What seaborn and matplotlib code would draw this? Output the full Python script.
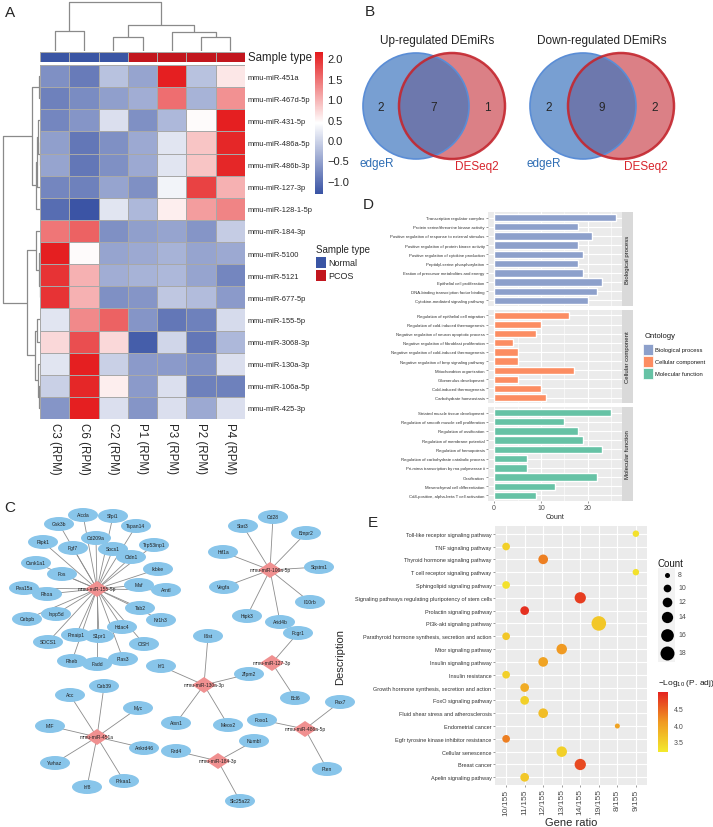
import numpy as np
import pandas as pd
import matplotlib
matplotlib.use("Agg")
import matplotlib.pyplot as plt
import seaborn as sns
from matplotlib.colors import LinearSegmentedColormap, ListedColormap, Normalize
from matplotlib.patches import Ellipse, Polygon, Circle, Rectangle
from matplotlib.cm import ScalarMappable

sns.set_style("white")
plt.rcParams["font.family"] = ["Liberation Sans", "DejaVu Sans"]
plt.rcParams["mathtext.fontset"] = "custom"
plt.rcParams["mathtext.rm"] = "Liberation Sans"
plt.rcParams["mathtext.it"] = "Liberation Sans:italic"

# ---------------- data: panel A ----------------
mirnas = ["mmu-miR-451a", "mmu-miR-467d-5p", "mmu-miR-431-5p", "mmu-miR-486a-5p",
          "mmu-miR-486b-3p", "mmu-miR-127-3p", "mmu-miR-128-1-5p", "mmu-miR-184-3p",
          "mmu-miR-5100", "mmu-miR-5121", "mmu-miR-677-5p", "mmu-miR-155-5p",
          "mmu-miR-3068-3p", "mmu-miR-130a-3p", "mmu-miR-106a-5p", "mmu-miR-425-3p"]
samples = ["C3 (RPM)", "C6 (RPM)", "C2 (RPM)", "P1 (RPM)", "P3 (RPM)", "P2 (RPM)", "P4 (RPM)"]
sample_type = ["Normal", "Normal", "Normal", "PCOS", "PCOS", "PCOS", "PCOS"]
type_levels = ["Normal", "PCOS"]
zscores = [
    [-0.70, -0.90, -0.20, -0.50, 2.10, -0.20, 0.60],
    [-0.85, -0.75, -0.55, -0.40, 1.50, -0.35, 1.25],
    [-0.80, -0.65, 0.10, -0.70, -0.30, 0.45, 2.10],
    [-0.55, -0.95, -0.70, -0.45, 0.15, 0.85, 2.05],
    [-0.50, -0.95, -0.70, -0.45, 0.15, 0.85, 2.05],
    [-0.80, -0.85, -0.50, -0.70, 0.30, 1.85, 1.00],
    [-1.05, -1.30, 0.15, -0.30, 0.55, 1.15, 1.35],
    [1.45, 1.60, -0.70, -0.55, -0.50, -0.65, -0.10],
    [2.10, 0.45, -0.50, -0.45, -0.35, -0.50, -0.45],
    [1.95, 1.00, -0.40, -0.35, -0.30, -0.50, -0.80],
    [1.95, 1.00, -0.70, -0.65, -0.15, -0.25, -0.60],
    [0.15, 1.30, 1.60, -0.65, -0.95, -0.85, 0.05],
    [0.70, 1.75, 0.70, -1.20, 0.00, -0.95, -0.30],
    [0.15, 2.10, -0.05, -0.60, -0.60, -0.70, 0.10],
    [-0.05, 2.05, 0.55, -0.60, 0.10, -0.85, -0.85],
    [-0.65, 2.10, 0.10, -0.65, 0.10, -0.45, 0.10],
]
# dendrogram merges: (child a, child b, height)
col_merges = [(0, 1, 20), (2, 3, 14), (5, 6, 14), (4, 9, 19), (8, 10, 26), (7, 11, 49)]
row_merges = [(0, 1, 1.5), (3, 4, 0.5), (2, 17, 2.5), (5, 18, 3), (6, 19, 4), (16, 20, 8),
              (9, 10, 0.5), (8, 22, 1.5), (7, 23, 4.5), (11, 12, 3.5), (14, 15, 1),
              (13, 26, 2), (25, 27, 5), (24, 28, 13), (21, 29, 37)]

# ---------------- data: panel B ----------------
venn_titles = ["Up-regulated DEmiRs", "Down-regulated DEmiRs"]
venn_counts = [(2, 7, 1), (2, 9, 2)]
venn_sets = ["edgeR", "DESeq2"]

# ---------------- data: panel C ----------------
net_hubs = ["mmu-miR-155-5p", "mmu-miR-106a-5p", "mmu-miR-127-3p", "mmu-miR-130a-3p",
            "mmu-miR-451a", "mmu-miR-184-3p", "mmu-miR-486a-5p"]
net_hub_x = [97, 270, 272, 204, 97, 218, 305]
net_hub_y = [590, 571, 664, 686, 738, 762, 730]
net_genes = ["Aicda", "Sfpi1", "Gsk3b", "Tspan14", "Cd209a", "Ripk1", "Fgf7", "Socs1", "Trp53inp1",
             "Cldn1", "Csnk1a1", "Ikbke", "Fos", "Maf", "Arntl", "Pea15a", "Rhoa", "Tab2",
             "Inpp5d", "Nr1h3", "Cebpb", "Hdac4", "Pmaip1", "S1pr1", "SOCS1", "CISH", "Rheb",
             "Fadd", "Pias3",
             "Stat3", "Cd28", "Bmpr2", "Hif1a", "Sqstm1", "Vegfa", "Il10rb", "Hipk3", "Arid4b",
             "Fcgr1", "Bcl6",
             "Il6st", "Irf1", "Zfpm2", "Atxn1", "Meox2",
             "Acc", "Cab39", "Myc", "MIF", "Ankrd46", "Ywhaz", "Prkaa1", "Irf8",
             "Numbl", "Fzd4", "Slc25a22",
             "Pax7", "Foxo1", "Pten"]
net_gene_x = [83, 113, 59, 136, 96, 43, 73, 113, 154, 131, 36, 158, 62, 139, 166, 24, 47, 140,
              56, 161, 27, 122, 76, 99, 48, 144, 72, 97, 123,
              243, 273, 306, 223, 319, 224, 310, 247, 280,
              298, 295,
              208, 161, 249, 176, 228,
              70, 104, 138, 50, 144, 55, 124, 87,
              254, 176, 240,
              340, 262, 327]
net_gene_y = [516, 517, 525, 527, 539, 543, 549, 550, 546, 558, 564, 570, 575, 586, 591, 589, 595,
              609, 615, 621, 620, 628, 636, 637, 643, 645, 662, 665, 660,
              527, 518, 534, 553, 568, 588, 603, 617, 623,
              634, 699,
              637, 667, 675, 724, 726,
              696, 687, 709, 727, 749, 764, 782, 788,
              742, 752, 802,
              703, 721, 770]
net_gene_hub = [0] * 29 + [1] * 9 + [2] * 2 + [3] * 5 + [4] * 8 + [5] * 3 + [6] * 3

# ---------------- data: panel D ----------------
go_bp = ["Transcription regulator complex", "Protein serine/threonine kinase activity",
         "Positive regulation of response to external stimulus",
         "Positive regulation of protein kinase activity",
         "Positive regulation of cytokine production", "Peptidyl-serine phosphorylation",
         "Eration of precursor metabolites and energy", "Epithelial cell proliferation",
         "DNA-binding transcription factor binding", "Cytokine-mediated signaling pathway"]
go_bp_count = [26, 18, 21, 18, 19, 18, 19, 23, 22, 20]
go_cc = ["Regulation of epithelial cell migration", "Regulation of cold-induced thermogenesis",
         "Negative regulation of neuron apoptotic process",
         "Negative regulation of fibroblast proliferation",
         "Negative regulation of cold-induced thermogenesis",
         "Negative regulation of bmp signaling pathway", "Mitochondrion organization",
         "Glomerulus development", "Cold-induced thermogenesis", "Carbohydrate homeostasis"]
go_cc_count = [16, 10, 9, 4, 5, 5, 17, 5, 10, 11]
go_mf = ["Striated muscle tissue development", "Regulation of smooth muscle cell proliferation",
         "Regulation of ossification", "Regulation of membrane potential",
         "Regulation of hemopoiesis", "Regulation of carbohydrate catabolic process",
         "Pri-mirna transcription by rna polymerase ii", "Ossification",
         "Mesenchymal cell differentiation", "Cd4-positive, alpha-beta T cell activation"]
go_mf_count = [25, 15, 18, 19, 23, 7, 7, 22, 13, 9]
ontologies = ["Biological process", "Cellular component", "Molecular function"]

# ---------------- data: panel E ----------------
kegg_terms = ["Toll-like receptor signaling pathway", "TNF signaling pathway",
              "Thyroid hormone signaling pathway", "T cell receptor signaling pathway",
              "Sphingolipid signaling pathway",
              "Signaling pathways regulating pluripotency of stem cells",
              "Prolactin signaling pathway", "PI3k-akt signaling pathway",
              "Parathyroid hormone synthesis, secretion and action", "Mtor signaling pathway",
              "Insulin signaling pathway", "Insulin resistance",
              "Growth hormone synthesis, secretion and action", "FoxO signaling pathway",
              "Fluid shear stress and atherosclerosis", "Endometrial cancer",
              "Egfr tyrosine kinase inhibitor resistance", "Cellular senescence",
              "Breast cancer", "Apelin signaling pathway"]
kegg_ratio = ["9/155", "10/155", "12/155", "9/155", "10/155", "14/155", "11/155", "19/155",
              "10/155", "13/155", "12/155", "10/155", "11/155", "11/155", "12/155", "8/155",
              "10/155", "13/155", "14/155", "11/155"]
kegg_count = [9, 10, 12, 9, 10, 14, 11, 19, 10, 13, 12, 10, 11, 11, 12, 8, 10, 13, 14, 11]
kegg_logp = [3.3, 3.5, 4.3, 3.3, 3.3, 4.8, 4.9, 3.6, 3.6, 4.1, 4.0, 3.5, 3.9, 3.5, 3.7, 4.0,
             4.3, 3.5, 4.7, 3.6]
ratio_levels = ["10/155", "11/155", "12/155", "13/155", "14/155", "19/155", "8/155", "9/155"]
count_legend = [8, 10, 12, 14, 16, 18]

# ================= figure =================
W, H = 713, 828
fig = plt.figure(figsize=(W / 100, H / 100), dpi=100)


def box(x0, y0, x1, y1):
    return [x0 / W, 1 - y1 / H, (x1 - x0) / W, (y1 - y0) / H]


# ---------- Panel A: heatmap ----------
hm_cmap = LinearSegmentedColormap.from_list("ph", ["#3953A4", "#FFFFFF", "#E41A1C"])
ax_hm = fig.add_axes(box(40, 66, 245, 420))
cax = fig.add_axes(box(315, 53, 323, 195))
df_z = pd.DataFrame(zscores, index=mirnas, columns=samples)
sns.heatmap(df_z, ax=ax_hm, cmap=hm_cmap, vmin=-1.32, vmax=2.15, cbar_ax=cax,
            linewidths=0.6, linecolor="#A8A8A8")
ax_hm.yaxis.tick_right()
ax_hm.set_yticks(np.arange(len(mirnas)) + 0.5)
ax_hm.set_yticklabels(mirnas, rotation=0, fontsize=5.4)
ax_hm.set_xticks(np.arange(len(samples)) + 0.5)
ax_hm.set_xticklabels(samples, rotation=270, fontsize=8.3, va="top", ha="center")
ax_hm.tick_params(length=0, pad=2)
ax_hm.set_xlabel("")
ax_hm.set_ylabel("")
cb = ax_hm.collections[0].colorbar
cb.outline.set_visible(False)
cb.set_ticks([-1.0, -0.5, 0.0, 0.5, 1.0, 1.5, 2.0])
cb.set_ticklabels(["\u22121.0", "\u22120.5", "0.0", "0.5", "1.0", "1.5", "2.0"])
cax.tick_params(length=0, labelsize=8, pad=3)

ax_an = fig.add_axes(box(40, 53, 245, 63))
codes = [[type_levels.index(t) for t in sample_type]]
sns.heatmap(codes, ax=ax_an, cmap=ListedColormap(["#3A55A4", "#C2161E"]), vmin=-0.5, vmax=1.5,
            cbar=False, linewidths=0.6, linecolor="#A8A8A8", xticklabels=False, yticklabels=False)
ax_an.text(7.1, 0.5, "Sample type", fontsize=8.3, va="center", ha="left", clip_on=False)


def draw_dendro(ax, n, merges, vertical):
    pos = {i: i + 0.5 for i in range(n)}
    hgt = {i: 0.0 for i in range(n)}
    for k, (a, b, h) in enumerate(merges):
        xa, xb = pos[a], pos[b]
        p = [xa, xa, xb, xb]
        q = [hgt[a], h, h, hgt[b]]
        if vertical:
            ax.plot(p, q, color="#8A8A8A", lw=0.9, solid_capstyle="butt")
        else:
            ax.plot(q, p, color="#8A8A8A", lw=0.9, solid_capstyle="butt")
        pos[n + k] = (xa + xb) / 2
        hgt[n + k] = h


ax_cd = fig.add_axes(box(40, 2, 245, 52))
draw_dendro(ax_cd, len(samples), col_merges, True)
ax_cd.set_xlim(0, len(samples))
ax_cd.set_ylim(0, 50)
ax_cd.axis("off")

ax_rd = fig.add_axes(box(0, 66, 40, 420))
draw_dendro(ax_rd, len(mirnas), row_merges, False)
ax_rd.set_xlim(40, 0)
ax_rd.set_ylim(len(mirnas), 0)
ax_rd.axis("off")

# ---------- Panel D: GO bars ----------
go_colors = ["#8DA0CB", "#FC8D62", "#66C2A5"]
go_df = pd.DataFrame({
    "Description": go_bp + go_cc + go_mf,
    "Count": go_bp_count + go_cc_count + go_mf_count,
    "Ontology": [ontologies[0]] * len(go_bp) + [ontologies[1]] * len(go_cc) + [ontologies[2]] * len(go_mf),
})
facet_y = [(213, 307), (311, 404), (408, 502)]
for i, ont in enumerate(ontologies):
    y0, y1 = facet_y[i]
    ax = fig.add_axes(box(488, y0, 622, y1))
    sub = go_df[go_df["Ontology"] == ont]
    ax.set_facecolor("#EBEBEB")
    ax.set_axisbelow(True)
    sns.barplot(data=sub, x="Count", y="Description", orient="h", color=go_colors[i],
                saturation=1, width=0.8, ax=ax)
    ax.set_xlim(-1.3, 27.3)
    ax.set_ylim(len(sub) - 0.4, -0.6)
    ax.set_xticks([0, 10, 20])
    ax.set_xticks([5, 15, 25], minor=True)
    ax.grid(which="major", color="white", lw=0.8)
    ax.grid(which="minor", axis="x", color="white", lw=0.4)
    for s in ax.spines.values():
        s.set_visible(False)
    ax.tick_params(axis="y", labelsize=3.1, length=1.5, width=0.4, color="#4D4D4D",
                   labelcolor="#333333", pad=1, left=True)
    ax.tick_params(which="minor", length=0)
    ax.set_ylabel("")
    if i < 2:
        ax.tick_params(axis="x", labelbottom=False, length=0)
        ax.set_xlabel("")
    else:
        ax.tick_params(axis="x", labelsize=5, length=1.5, width=0.4, color="#4D4D4D",
                       labelcolor="#4D4D4D", pad=1, bottom=True)
        ax.set_xlabel("Count", fontsize=5, labelpad=1)
    sax = fig.add_axes(box(622, y0, 633, y1))
    sax.set_facecolor("#D9D9D9")
    sax.set_xticks([])
    sax.set_yticks([])
    for s in sax.spines.values():
        s.set_visible(False)
    sax.text(0.5, 0.5, ont, rotation=90, ha="center", va="center", fontsize=4.3,
             color="#1A1A1A", transform=sax.transAxes)

# ---------- Panel E: KEGG dot plot ----------
e_cmap = LinearSegmentedColormap.from_list("yr", ["#F3EA2D", "#F09A22", "#E42320"])
e_norm = Normalize(3.2, 5.0)
size_range = (13, 110)
size_norm = (8, 19)
kdf = pd.DataFrame({"term": kegg_terms, "ratio": kegg_ratio, "Count": kegg_count,
                    "logp": kegg_logp})
kdf["xi"] = pd.Categorical(kdf["ratio"], categories=ratio_levels).codes
kdf["yi"] = np.arange(len(kdf))
ax_e = fig.add_axes(box(495, 527, 647, 786))
ax_e.set_facecolor("#EBEBEB")
ax_e.set_axisbelow(True)
sns.scatterplot(data=kdf, x="xi", y="yi", size="Count", sizes=size_range, size_norm=size_norm,
                hue="logp", palette=e_cmap, hue_norm=e_norm, legend=False, linewidth=0,
                ax=ax_e, zorder=3)
ax_e.set_xlim(-0.6, len(ratio_levels) - 0.4)
ax_e.set_ylim(len(kegg_terms) - 0.4, -0.6)
ax_e.set_xticks(range(len(ratio_levels)))
ax_e.set_xticklabels(ratio_levels, rotation=90, fontsize=6, color="#4D4D4D")
ax_e.set_yticks(range(len(kegg_terms)))
ax_e.set_yticklabels(kegg_terms, fontsize=4, color="#333333")
ax_e.grid(color="white", lw=0.8)
for s in ax_e.spines.values():
    s.set_visible(False)
ax_e.tick_params(length=1.5, width=0.4, color="#4D4D4D", pad=1, left=True, bottom=True)
ax_e.set_xlabel("Gene ratio", fontsize=8, labelpad=2)
ax_e.set_ylabel("")

cax2 = fig.add_axes(box(658, 693, 668, 753))
cb2 = fig.colorbar(ScalarMappable(norm=e_norm, cmap=e_cmap), cax=cax2)
cb2.outline.set_visible(False)
cb2.set_ticks([3.5, 4.0, 4.5])
cax2.tick_params(length=2, width=0.5, color="white", labelsize=5, labelcolor="#4D4D4D", pad=2)

# ---------- overlay: texts, venns, network ----------
ov = fig.add_axes([0, 0, 1, 1])
ov.set_xlim(0, W)
ov.set_ylim(H, 0)
ov.axis("off")
ov.patch.set_visible(False)

for lab, (x, y) in zip("ABCDE", [(10, 13), (370, 12), (10, 508), (368, 205), (373, 523)]):
    ov.text(x, y, lab, fontsize=11, ha="center", va="center")

# sample type legend
ov.text(316, 250, "Sample type", fontsize=7, ha="left", va="center")
for t, col, yy in zip(type_levels, ["#3A55A4", "#C2161E"], [258, 271]):
    ov.add_patch(Rectangle((316, yy), 10, 11, fc=col, ec="none"))
    ov.text(328, yy + 5.5, t, fontsize=6.5, ha="left", va="center")

# venns
venn_layout = [(416, 452, 437), (583, 621, 602)]
R = 53
for (cb_x, cr_x, tx), title, cnt in zip(venn_layout, venn_titles, venn_counts):
    cy = 107
    ov.add_patch(Circle((cr_x, cy), R, fc="#DB8086", ec="none", zorder=2))
    ov.add_patch(Circle((cb_x, cy), R, fc="#3F76BF", alpha=0.7, ec="none", zorder=3))
    ov.add_patch(Circle((cb_x, cy), R, fill=False, ec="#5A8DD6", lw=1.2, zorder=4))
    ov.add_patch(Circle((cr_x, cy), R, fill=False, ec="#C4262E", lw=1.8, alpha=0.9, zorder=4))
    ov.text(tx, 41, title, fontsize=8.5, ha="center", va="center", color="#222222")
    xs = [((cb_x - R) + (cr_x - R)) / 2, ((cr_x - R) + (cb_x + R)) / 2,
          ((cb_x + R) + (cr_x + R)) / 2]
    for xx, c in zip(xs, cnt):
        ov.text(xx, cy + 1, str(c), fontsize=8.5, ha="center", va="center", zorder=5)
    ov.text(cb_x - 39, 164, venn_sets[0], fontsize=8.5, color="#2E6DB4", ha="center", va="center")
    ov.text(cr_x + 25, 167, venn_sets[1], fontsize=8.5, color="#D7242C", ha="center", va="center")

# ontology legend
ov.text(645, 337, "Ontology", fontsize=5.5, ha="left", va="center", color="#1A1A1A")
for k, (ont, col) in enumerate(zip(ontologies, go_colors)):
    yy = 345 + 12 * k
    ov.add_patch(Rectangle((643, yy), 10, 11, fc=col, ec="white", lw=0.5))
    ov.text(655, yy + 5.5, ont, fontsize=4.2, ha="left", va="center", color="#1A1A1A")

# KEGG size legend
ov.text(657, 564, "Count", fontsize=7, ha="left", va="center", color="#1A1A1A")
ov.add_patch(Rectangle((658, 569), 17, 94, fc="#F2F2F2", ec="none"))
leg_y = [576, 589, 603, 618, 636, 654]
for v, yy in zip(count_legend, leg_y):
    s = size_range[0] + (v - size_norm[0]) / (size_norm[1] - size_norm[0]) * (size_range[1] - size_range[0])
    ov.scatter([667], [yy], s=s, color="black", lw=0)
    ov.text(678, yy, str(v), fontsize=5, ha="left", va="center", color="#4D4D4D")
ov.text(658, 684, "$-\\mathrm{Log}_{10}$ (P. adj)", fontsize=6, ha="left", va="center",
        color="#1A1A1A")
ov.text(340, 657, "Description", fontsize=8, rotation=90, ha="center", va="center")

# network
for gx, gy, h in zip(net_gene_x, net_gene_y, net_gene_hub):
    ov.plot([net_hub_x[h], gx], [net_hub_y[h], gy], color="#8C8C8C", lw=0.6, zorder=1)
for g, gx, gy in zip(net_genes, net_gene_x, net_gene_y):
    ov.add_patch(Ellipse((gx, gy), 30, 14, fc="#88C5EA", ec="none", zorder=2))
    ov.text(gx, gy, g, fontsize=3.6, ha="center", va="center", zorder=3, color="#222222")
for hname, hx, hy in zip(net_hubs, net_hub_x, net_hub_y):
    ov.add_patch(Polygon([(hx - 12, hy), (hx, hy - 8), (hx + 12, hy), (hx, hy + 8)],
                         closed=True, fc="#F09090", ec="none", zorder=4))
    ov.text(hx, hy, hname, fontsize=3.5, ha="center", va="center", zorder=5, color="#222222")

fig.savefig("out.png", dpi=100)
